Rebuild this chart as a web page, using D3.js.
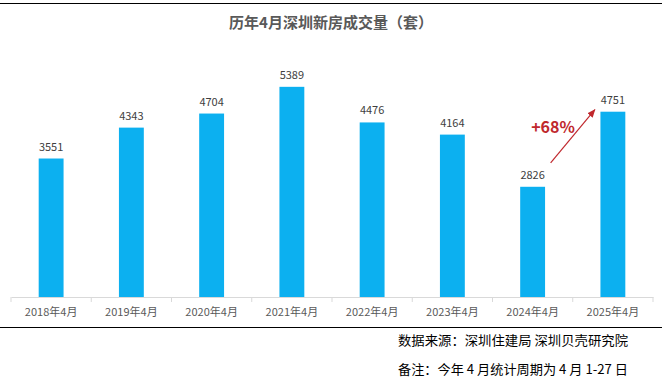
<!DOCTYPE html>
<html><head><meta charset="utf-8">
<script src="https://cdn.jsdelivr.net/npm/d3@7"></script>
<style>body{margin:0;background:#fff}svg{display:block}</style>
</head><body>
<script>
const categories = ["2018年4月","2019年4月","2020年4月","2021年4月","2022年4月","2023年4月","2024年4月","2025年4月"];
const values = [3551,4343,4704,5389,4476,4164,2826,4751];
const title = "历年4月深圳新房成交量（套）";
const source = "数据来源：深圳住建局 深圳贝壳研究院";
const note = "备注：今年 4 月统计周期为 4 月 1-27 日";
const growthLabel = "+68%";

const W = 662, H = 378;
const svg = d3.select("body").append("svg").attr("width", W).attr("height", H);
const font = "'Noto Sans CJK SC','Noto Sans',sans-serif";

// frame lines
svg.append("line").attr("x1",0).attr("x2",W).attr("y1",3.5).attr("y2",3.5).attr("stroke","#000").attr("stroke-width",1.2);
svg.append("line").attr("x1",0).attr("x2",W).attr("y1",327.5).attr("y2",327.5).attr("stroke","#000").attr("stroke-width",1.2);

svg.append("text").attr("x",331).attr("y",28).attr("text-anchor","middle")
  .attr("font-family",font).attr("font-size",15).attr("font-weight","bold").attr("fill","#595959").text(title);

const x = d3.scaleBand().domain(categories).range([11,653]).paddingInner(0.69).paddingOuter(0.345);
const y = d3.scaleLinear().domain([0,6000]).range([297,63]);

const g = svg.append("g");
g.selectAll("rect.bar").data(values).join("rect").attr("class","bar")
  .attr("x",(d,i)=>x(categories[i])).attr("width",x.bandwidth())
  .attr("y",d=>y(d)).attr("height",d=>y(0)-y(d)).attr("fill","#0cb0f0");

g.selectAll("text.val").data(values).join("text").attr("class","val")
  .attr("x",(d,i)=>x(categories[i])+x.bandwidth()/2).attr("y",d=>y(d)-8)
  .attr("text-anchor","middle").attr("font-family",font).attr("font-size",11).attr("fill","#404040").text(d=>d);

// axis
const xb = d3.scaleBand().domain(categories).range([11,653]);
const axis = svg.append("g").attr("transform","translate(0,297)")
  .call(d3.axisBottom(xb).tickSize(0).tickPadding(11));
axis.select(".domain").attr("stroke","#d9d9d9");
axis.selectAll("text").attr("font-family",font).attr("font-size",11).attr("fill","#595959");
const bounds = [0,1,2,3,4,5,6,7,8].map(i=>11+i*xb.step());
svg.append("g").selectAll("line").data(bounds).join("line")
  .attr("x1",d=>d).attr("x2",d=>d).attr("y1",297).attr("y2",302).attr("stroke","#d9d9d9");

// annotation
const defs = svg.append("defs");
defs.append("marker").attr("id","ah").attr("viewBox","0 0 10 10").attr("refX",9).attr("refY",5)
  .attr("markerWidth",7).attr("markerHeight",7).attr("orient","auto")
  .append("path").attr("d","M0,1 L10,5 L0,9 z").attr("fill","#c0282d");
const x6 = x(categories[6])+x.bandwidth()/2, x7 = x(categories[7])+x.bandwidth()/2;
svg.append("line").attr("x1",x6+18).attr("y1",y(values[6])-24).attr("x2",x7-18).attr("y2",y(values[7])-2)
  .attr("stroke","#c0282d").attr("stroke-width",1.2).attr("marker-end","url(#ah)");
svg.append("text").attr("x",553).attr("y",133).attr("text-anchor","middle")
  .attr("font-family",font).attr("font-size",16).attr("font-weight","bold").attr("fill","#c0282d").text(growthLabel);

// footer
svg.append("text").attr("x",398).attr("y",345).attr("textLength",230).attr("lengthAdjust","spacingAndGlyphs")
  .attr("font-family",font).attr("font-size",13).attr("fill","#000").text(source);
svg.append("text").attr("x",398).attr("y",374).attr("textLength",230).attr("lengthAdjust","spacingAndGlyphs")
  .attr("font-family",font).attr("font-size",13).attr("fill","#000").text(note);
</script>
</body></html>
